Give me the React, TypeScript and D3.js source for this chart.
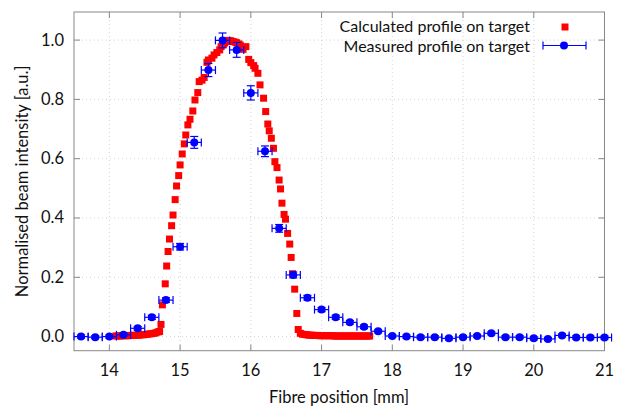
import React, { useEffect, useRef } from "react";
import * as d3 from "d3";

// calculated profile on target (red squares)
const calcX = [
  14.09, 14.12, 14.15, 14.18, 14.21, 14.24, 14.27, 14.3, 14.33, 14.36, 14.39, 14.42, 14.45, 14.48,
  14.51, 14.54, 14.57, 14.6, 14.63, 14.66, 14.69, 14.71, 14.73, 14.75, 14.79, 14.81, 14.83, 14.85,
  14.88, 14.9, 14.93, 14.95, 14.98, 15.0, 15.03, 15.06, 15.08, 15.11, 15.14, 15.18, 15.21, 15.25,
  15.27, 15.31, 15.34, 15.38, 15.4, 15.45, 15.48, 15.52, 15.56, 15.58, 15.61, 15.63, 15.66, 15.68,
  15.71, 15.73, 15.75, 15.78, 15.8, 15.83, 15.85, 15.89, 15.93, 15.97, 16.0, 16.04, 16.06, 16.1,
  16.13, 16.18, 16.21, 16.24, 16.26, 16.29, 16.32, 16.34, 16.37, 16.4, 16.42, 16.44, 16.47, 16.49,
  16.52, 16.55, 16.57, 16.59, 16.62, 16.65, 16.67, 16.7, 16.73, 16.76, 16.79, 16.82, 16.85, 16.88,
  16.91, 16.94, 16.97, 17.0, 17.03, 17.06, 17.09, 17.12, 17.15, 17.18, 17.21, 17.24, 17.27, 17.3,
  17.33, 17.36, 17.39, 17.42, 17.45, 17.48, 17.51, 17.54, 17.57, 17.6, 17.63, 17.66, 17.68,
];
const calcY = [
  0.002, 0.002, 0.002, 0.003, 0.003, 0.003, 0.003, 0.004, 0.004, 0.004, 0.005, 0.005, 0.006, 0.006,
  0.007, 0.008, 0.009, 0.01, 0.011, 0.013, 0.016, 0.017, 0.041, 0.107, 0.178, 0.238, 0.287, 0.329,
  0.374, 0.41, 0.462, 0.508, 0.543, 0.579, 0.616, 0.65, 0.68, 0.714, 0.733, 0.761, 0.798, 0.823,
  0.86, 0.865, 0.874, 0.925, 0.933, 0.939, 0.95, 0.958, 0.967, 0.978, 0.986, 0.99, 0.995, 0.999,
  0.998, 0.996, 0.995, 0.993, 0.991, 0.987, 0.983, 0.969, 0.978, 0.935, 0.924, 0.914, 0.905, 0.888,
  0.849, 0.804, 0.759, 0.717, 0.694, 0.669, 0.635, 0.59, 0.57, 0.528, 0.498, 0.45, 0.412, 0.396,
  0.348, 0.312, 0.267, 0.212, 0.16, 0.078, 0.024, 0.011, 0.008, 0.007, 0.006, 0.005, 0.005, 0.004,
  0.004, 0.004, 0.003, 0.003, 0.003, 0.003, 0.003, 0.003, 0.003, 0.002, 0.002, 0.002, 0.002, 0.002,
  0.002, 0.002, 0.002, 0.002, 0.002, 0.002, 0.002, 0.002, 0.002, 0.002, 0.002, 0.002, 0.002,
];

// measured profile on target (blue points with error bars)
const measX = [
  13.6, 13.8, 14.0, 14.2, 14.4, 14.6, 14.8, 15.0, 15.2, 15.4, 15.6, 15.8, 16.0, 16.2, 16.4, 16.6,
  16.8, 17.0, 17.2, 17.4, 17.6, 17.8, 18.0, 18.2, 18.4, 18.6, 18.8, 19.0, 19.2, 19.4, 19.6, 19.8,
  20.0, 20.2, 20.4, 20.6, 20.8, 21.0,
];
const measY = [
  0.0, -0.002, 0.0, 0.006, 0.028, 0.065, 0.123, 0.303, 0.655, 0.899, 0.999, 0.967, 0.822, 0.625,
  0.365, 0.208, 0.131, 0.091, 0.065, 0.048, 0.033, 0.018, 0.002, 0.0, -0.002, -0.002, -0.006,
  -0.002, 0.002, 0.011, -0.002, -0.002, -0.006, -0.008, 0.004, -0.003, -0.003, -0.003,
];
const measYErr = [
  0.005, 0.005, 0.005, 0.005, 0.006, 0.007, 0.008, 0.011, 0.02, 0.022, 0.025, 0.025, 0.024, 0.018,
  0.013, 0.01, 0.008, 0.007, 0.007, 0.006, 0.006, 0.005, 0.005, 0.005, 0.005, 0.005, 0.005,
  0.005, 0.005, 0.005, 0.005, 0.005, 0.005, 0.005, 0.005, 0.005, 0.005, 0.005,
];
const measXErr = 0.1;

const xTicks = [14, 15, 16, 17, 18, 19, 20, 21];
const yTicks = [0, 0.2, 0.4, 0.6, 0.8, 1.0];
const legendLabels = ["Calculated profile on target", "Measured profile on target"];

const W = 624;
const H = 408;
const FONT = "Lato, 'DejaVu Sans', sans-serif";
const FS = 16.5;

export default function App() {
  const ref = useRef<SVGSVGElement>(null);

  useEffect(() => {
    const svg = d3.select(ref.current);
    svg.selectAll("*").remove();

    const left = 74, right = 604.5, top = 12, bottom = 350.7;
    const x = d3.scaleLinear().domain([13.5, 21]).range([left, right]);
    const y = d3.scaleLinear().domain([-0.0476, 1.0948]).range([bottom, top]);

    // grid
    const grid = svg.append("g").attr("stroke", "#c8c8c8").attr("stroke-width", 0.8).attr("stroke-dasharray", "1,3");
    xTicks.filter((t) => t < 21).forEach((t) => {
      grid.append("line").attr("x1", x(t)).attr("x2", x(t)).attr("y1", top).attr("y2", bottom);
    });
    yTicks.forEach((t) => {
      grid.append("line").attr("x1", left).attr("x2", right).attr("y1", y(t)).attr("y2", y(t));
    });

    // frame + inward ticks
    const fr = svg.append("g").attr("stroke", "#888").attr("stroke-width", 1).attr("fill", "none");
    fr.append("rect").attr("x", left).attr("y", top).attr("width", right - left).attr("height", bottom - top);
    const tl = 6;
    xTicks.forEach((t) => {
      fr.append("line").attr("x1", x(t)).attr("x2", x(t)).attr("y1", bottom).attr("y2", bottom - tl);
      fr.append("line").attr("x1", x(t)).attr("x2", x(t)).attr("y1", top).attr("y2", top + tl);
    });
    yTicks.forEach((t) => {
      fr.append("line").attr("x1", left).attr("x2", left + tl).attr("y1", y(t)).attr("y2", y(t));
      fr.append("line").attr("x1", right).attr("x2", right - tl).attr("y1", y(t)).attr("y2", y(t));
    });

    // tick labels
    const txt = svg.append("g").attr("font-family", FONT).attr("font-size", FS).attr("fill", "#111");
    xTicks.forEach((t) => {
      txt.append("text").attr("x", x(t)).attr("y", bottom + 25).attr("text-anchor", "middle").text(d3.format("d")(t));
    });
    yTicks.forEach((t) => {
      txt.append("text").attr("x", left - 10).attr("y", y(t) + 5.5).attr("text-anchor", "end").text(d3.format(".1f")(t));
    });
    txt.append("text").attr("x", 339).attr("y", 403).attr("text-anchor", "middle").text("Fibre position [mm]");
    txt.append("text")
      .attr("transform", `translate(28,${(top + bottom) / 2}) rotate(-90)`)
      .attr("text-anchor", "middle")
      .text("Normalised beam intensity [a.u.]");

    // calculated profile
    const sq = 7;
    svg.append("g").attr("fill", "#ff0000")
      .selectAll("rect")
      .data(calcX.map((v, i) => [v, calcY[i]]))
      .join("rect")
      .attr("x", (d) => x(d[0]) - sq / 2)
      .attr("y", (d) => y(d[1]) - sq / 2)
      .attr("width", sq)
      .attr("height", sq);

    // measured profile with error bars
    const meas = svg.append("g");
    const cap = 4;
    measX.forEach((mx, i) => {
      const cx = x(mx), cy = y(measY[i]);
      const x0 = x(mx - measXErr), x1 = x(mx + measXErr);
      const y0 = y(measY[i] - measYErr[i]), y1 = y(measY[i] + measYErr[i]);
      const g = meas.append("g").attr("stroke", "#0000ff").attr("stroke-width", 1.2);
      g.append("line").attr("x1", x0).attr("x2", x1).attr("y1", cy).attr("y2", cy);
      g.append("line").attr("x1", x0).attr("x2", x0).attr("y1", cy - cap).attr("y2", cy + cap);
      g.append("line").attr("x1", x1).attr("x2", x1).attr("y1", cy - cap).attr("y2", cy + cap);
      g.append("line").attr("x1", cx).attr("x2", cx).attr("y1", y0).attr("y2", y1);
      g.append("line").attr("x1", cx - cap).attr("x2", cx + cap).attr("y1", y0).attr("y2", y0);
      g.append("line").attr("x1", cx - cap).attr("x2", cx + cap).attr("y1", y1).attr("y2", y1);
      meas.append("circle").attr("cx", cx).attr("cy", cy).attr("r", 4).attr("fill", "#0000ff");
    });

    // legend
    const lg = svg.append("g").attr("font-family", FONT).attr("font-size", 16).attr("fill", "#111");
    lg.append("text").attr("x", 530).attr("y", 32).attr("text-anchor", "end").text(legendLabels[0]);
    lg.append("text").attr("x", 530).attr("y", 51.5).attr("text-anchor", "end").text(legendLabels[1]);
    lg.append("rect").attr("x", 565 - sq / 2).attr("y", 27 - sq / 2).attr("width", sq).attr("height", sq).attr("fill", "#ff0000");
    const lb = lg.append("g").attr("stroke", "#0000ff").attr("stroke-width", 1.2);
    lb.append("line").attr("x1", 543).attr("x2", 586).attr("y1", 45.5).attr("y2", 45.5);
    lb.append("line").attr("x1", 543).attr("x2", 543).attr("y1", 41.5).attr("y2", 49.5);
    lb.append("line").attr("x1", 586).attr("x2", 586).attr("y1", 41.5).attr("y2", 49.5);
    lg.append("circle").attr("cx", 564).attr("cy", 45.5).attr("r", 4).attr("fill", "#0000ff");
  }, []);

  return (
    <svg
      ref={ref}
      width={W}
      height={H}
      style={{ position: "absolute", left: 0, top: 0, background: "#fff" }}
    />
  );
}
